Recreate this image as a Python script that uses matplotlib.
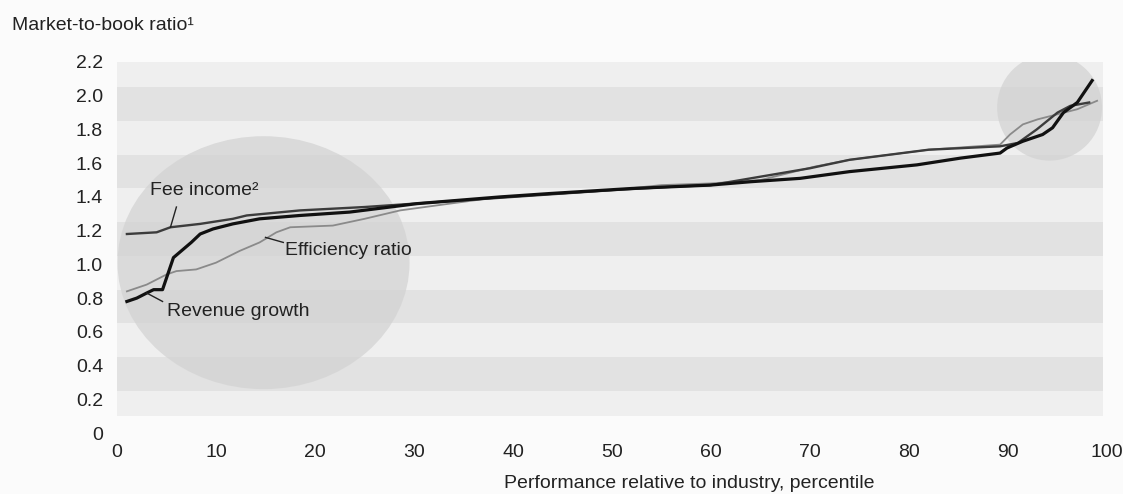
import matplotlib.pyplot as plt
from matplotlib.patches import Ellipse
import numpy as np

plt.rcParams['font.family'] = ['Liberation Sans', 'DejaVu Sans']

# percentile position vs market-to-book ratio
rev_x = [1, 2, 3, 3.7, 4.6, 5.7, 6.5, 7.5, 8.4, 9.7, 11.7, 14.4, 18.5, 23.5, 30.3, 38.7,
         43.7, 52, 59.9, 64, 69, 74, 80.8, 85.2, 89.2, 89.9, 91.5, 93.5, 94.5, 95.6, 97, 98.5]
rev_y = [0.78, 0.80, 0.83, 0.85, 0.85, 1.04, 1.08, 1.13, 1.18, 1.21, 1.24, 1.27, 1.29, 1.31, 1.36, 1.40,
         1.42, 1.45, 1.47, 1.49, 1.51, 1.55, 1.59, 1.63, 1.66, 1.69, 1.73, 1.77, 1.81, 1.90, 1.96, 2.09]

fee_x = [1, 4, 5.4, 8.4, 11.7, 13.1, 18.5, 25, 30, 40, 50, 56, 60, 64, 70, 74, 82, 89.2,
         91, 92.9, 95, 96.3, 98.2]
fee_y = [1.18, 1.19, 1.22, 1.24, 1.27, 1.29, 1.32, 1.34, 1.36, 1.40, 1.44, 1.46, 1.47, 1.51, 1.57, 1.62, 1.68, 1.70,
         1.72, 1.80, 1.90, 1.94, 1.96]

eff_x = [1, 3, 5, 6, 8, 10, 12.4, 14.4, 16.1, 17.5, 21.8, 25, 28.6, 33.6, 38.7, 45, 50, 55, 60, 65,
         70.5, 74, 82, 89.2, 90.2, 91.5, 93, 95, 97, 99]
eff_y = [0.84, 0.88, 0.94, 0.96, 0.97, 1.01, 1.08, 1.13, 1.19, 1.22, 1.23, 1.27, 1.32, 1.36, 1.40, 1.42, 1.44, 1.47, 1.48, 1.50,
         1.58, 1.62, 1.68, 1.71, 1.77, 1.83, 1.86, 1.89, 1.92, 1.97]

yticks = [0, 0.2, 0.4, 0.6, 0.8, 1.0, 1.2, 1.4, 1.6, 1.8, 2.0, 2.2]
ytick_labels = ['0', '0.2', '0.4', '0.6', '0.8', '1.0', '1.2', '1.4', '1.6', '1.8', '2.0', '2.2']
xticks = [0, 10, 20, 30, 40, 50, 60, 70, 80, 90, 100]
bands = [(0.25, 0.45), (0.65, 0.85), (1.05, 1.25), (1.45, 1.65), (1.85, 2.05)]

fig = plt.figure(figsize=(11.23, 4.94), dpi=100, facecolor='#fbfbfb')
ax = fig.add_axes([117 / 1123, 61 / 494, 990 / 1123, 371 / 494])
ax.set_facecolor('none')
ax.set_xlim(0, 100)
ax.set_ylim(0, 2.2)

# shaded background with stripes
ax.axhspan(0.1, 2.2, xmin=0, xmax=0.996, color='#efefef', lw=0, zorder=0)
for lo, hi in bands:
    ax.axhspan(lo, hi, xmin=0, xmax=0.996, color='#e2e2e2', lw=0, zorder=0.5)

# highlight circles
ax.add_patch(Ellipse((14.8, 1.01), 29.5, 1.5, facecolor='#d3d3d3', edgecolor='none', alpha=0.75, zorder=1))
ax.add_patch(Ellipse((94.2, 1.93), 10.6, 0.63, facecolor='#d3d3d3', edgecolor='none', alpha=0.75, zorder=1))

ax.plot(eff_x, eff_y, color='#8a8a8a', lw=1.3, zorder=3)
ax.plot(fee_x, fee_y, color='#3c3c3c', lw=1.7, zorder=4)
ax.plot(rev_x, rev_y, color='#111111', lw=2.3, zorder=5)

# labels with leader lines
ax.text(3.3, 1.44, 'Fee income²', fontsize=14, color='#222222', va='center', ha='left', zorder=6)
ax.plot([5.4, 6.0], [1.22, 1.34], color='#222222', lw=1, zorder=6)
ax.text(17.0, 1.085, 'Efficiency ratio', fontsize=14, color='#222222', va='center', ha='left', zorder=6)
ax.plot([15.0, 16.8], [1.16, 1.13], color='#222222', lw=1, zorder=6)
ax.text(5.1, 0.72, 'Revenue growth', fontsize=14, color='#222222', va='center', ha='left', zorder=6)
ax.plot([3.0, 4.6], [0.83, 0.78], color='#222222', lw=1, zorder=6)

for s in ax.spines.values():
    s.set_visible(False)

ax.set_yticks(yticks)
ax.set_yticklabels(ytick_labels)
ax.tick_params(axis='y', length=0, pad=10, labelsize=14, labelcolor='#222222')

ax.set_xticks(xticks)
ax.set_xticklabels([str(v) for v in xticks])
ax.tick_params(axis='x', which='major', length=0, pad=8, labelsize=14, labelcolor='#222222')
ax.set_xticks(xticks[1:-1], minor=True)
ax.tick_params(axis='x', which='minor', direction='in', length=5, width=1.1, color='#222222')

fig.text(689 / 1123, 1 - 483 / 494, 'Performance relative to industry, percentile',
         fontsize=14, color='#222222', va='center', ha='center')
fig.text(12 / 1123, 1 - 25 / 494, 'Market-to-book ratio¹', fontsize=14, color='#222222', va='center', ha='left')

fig.savefig('out.png', dpi=100, facecolor=fig.get_facecolor())
